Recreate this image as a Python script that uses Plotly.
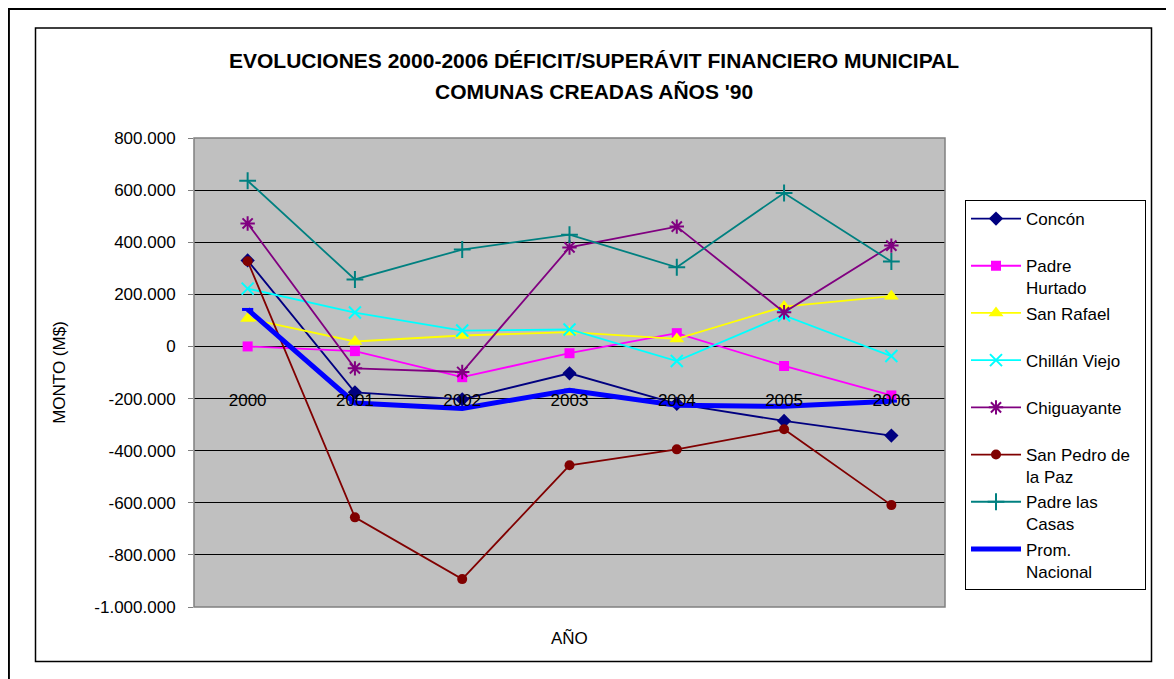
import plotly.graph_objects as go

# ---------------- data ----------------
years = ["2000", "2001", "2002", "2003", "2004", "2005", "2006"]

concon = [330000, -176000, -203000, -103000, -220000, -286000, -342000]
padre_hurtado = [0, -18000, -118000, -26000, 51000, -75000, -188000]
san_rafael = [107000, 19000, 42000, 55000, 29000, 153000, 193000]
chillan_viejo = [222000, 130000, 61000, 65000, -56000, 119000, -37000]
chiguayante = [472000, -84000, -98000, 380000, 460000, 131000, 387000]
san_pedro = [327000, -656000, -893000, -456000, -395000, -318000, -609000]
padre_las_casas = [636000, 257000, 372000, 429000, 304000, 589000, 326000]
prom_nacional = [142000, -217000, -238000, -168000, -226000, -230000, -210000]

y_tick_vals = [800000, 600000, 400000, 200000, 0, -200000, -400000,
               -600000, -800000, -1000000]
y_tick_text = ["800.000", "600.000", "400.000", "200.000", "0", "-200.000",
               "-400.000", "-600.000", "-800.000", "-1.000.000"]

title_line1 = "EVOLUCIONES 2000-2006 DÉFICIT/SUPERÁVIT FINANCIERO MUNICIPAL"
title_line2 = "COMUNAS CREADAS AÑOS '90"

# ---------------- geometry helpers (page px -> paper fraction) ----------------
OFF = 8                      # browser body margin
W, H = 1174 - OFF, 679 - OFF
ML, MT = 194 - OFF, 138 - OFF
MR = W - (945 - OFF)
MB = H - (607 - OFF)
PW, PH = W - ML - MR, H - MT - MB


def px2x(px):
    return (px - OFF - ML) / PW


def py2y(py):
    return (H - MB - (py - OFF)) / PH


FONT = "Liberation Sans, Arial, sans-serif"

series = [
    ("Concón<br>&nbsp;", concon, "#000080", dict(symbol="diamond", size=11, color="#000080")),
    ("Padre<br>Hurtado", padre_hurtado, "#FF00FF", dict(symbol="square", size=10, color="#FF00FF")),
    ("San Rafael<br>&nbsp;", san_rafael, "#FFFF00", dict(symbol="triangle-up", size=13, color="#FFFF00")),
    ("Chillán Viejo<br>&nbsp;", chillan_viejo, "#00FFFF",
     dict(symbol="x-thin-open", size=12, color="#00FFFF", line=dict(color="#00FFFF", width=2))),
    ("Chiguayante<br>&nbsp;", chiguayante, "#800080",
     dict(symbol="asterisk-open", size=12, color="#800080", line=dict(color="#800080", width=2))),
    ("San Pedro de&nbsp;&nbsp;<br>la Paz", san_pedro, "#800000", dict(symbol="circle", size=10, color="#800000")),
    ("Padre las<br>Casas", padre_las_casas, "#008080",
     dict(symbol="cross-thin-open", size=12, color="#008080", line=dict(color="#008080", width=2))),
]

fig = go.Figure()
for name, vals, col, mk in series:
    fig.add_trace(go.Scatter(x=years, y=vals, name=name, mode="lines+markers",
                             line=dict(color=col, width=1.8), marker=mk))

fig.add_trace(go.Scatter(x=years, y=prom_nacional, name="Prom.<br>Nacional",
                         mode="lines+markers",
                         line=dict(color="#0000FF", width=5),
                         marker=dict(symbol="line-ew-open", size=8,
                                     line=dict(color="#0000FF", width=3))))

shapes = [
    # outer thick frame (left + top)
    dict(type="path", xref="paper", yref="paper",
         path=(f"M {px2x(OFF + 0.4)},{py2y(H + 30)} L {px2x(OFF + 0.4)},{py2y(OFF + 0.4)} "
               f"L {px2x(1200)},{py2y(OFF + 0.4)}"),
         line=dict(color="black", width=3)),
    # chart area box
    dict(type="rect", xref="paper", yref="paper",
         x0=px2x(35.5), x1=px2x(1151.5), y0=py2y(661.5), y1=py2y(28),
         line=dict(color="black", width=1.5), layer="below"),
    # plot area border
    dict(type="rect", xref="x domain", yref="y domain", x0=0, x1=1, y0=0, y1=1,
         line=dict(color="#808080", width=1.5), layer="above"),
]

annotations = [
    dict(text=title_line1, xref="paper", yref="paper", x=px2x(594), y=py2y(61),
         xanchor="center", yanchor="middle", showarrow=False,
         font=dict(family=FONT, size=21, color="black", weight="bold")),
    dict(text=title_line2, xref="paper", yref="paper", x=px2x(594), y=py2y(92),
         xanchor="center", yanchor="middle", showarrow=False,
         font=dict(family=FONT, size=21, color="black", weight="bold")),
    dict(text="AÑO", xref="paper", yref="paper", x=0.5, y=py2y(638),
         xanchor="center", yanchor="middle", showarrow=False,
         font=dict(family=FONT, size=17, color="black")),
]

fig.update_layout(
    width=W, height=H, autosize=False,
    margin=dict(l=ML, r=MR, t=MT, b=MB),
    paper_bgcolor="white", plot_bgcolor="#C0C0C0",
    font=dict(family=FONT, size=17, color="black"),
    showlegend=True,
    legend=dict(x=px2x(965), y=py2y(200), xanchor="left", yanchor="top",
                bgcolor="white", bordercolor="black", borderwidth=1,
                font=dict(family=FONT, size=17, color="black"),
                valign="top", itemwidth=50, tracegroupgap=0),
    xaxis=dict(type="category", range=[-0.5, 6.5], anchor="free",
               position=py2y(388), showgrid=False, zeroline=False,
               showline=False, ticks="", tickfont=dict(size=17)),
    yaxis=dict(range=[-1000000, 800000], tickmode="array",
               tickvals=y_tick_vals, ticktext=y_tick_text,
               ticks="outside", ticklen=5, tickcolor="#808080",
               ticklabelstandoff=9,
               showgrid=True, gridcolor="black", gridwidth=1,
               zeroline=False, showline=False,
               title=dict(text="MONTO (M$)", standoff=24, font=dict(size=17)),
               tickfont=dict(size=17)),
    shapes=shapes,
    annotations=annotations,
)

fig.write_html("out.html")
